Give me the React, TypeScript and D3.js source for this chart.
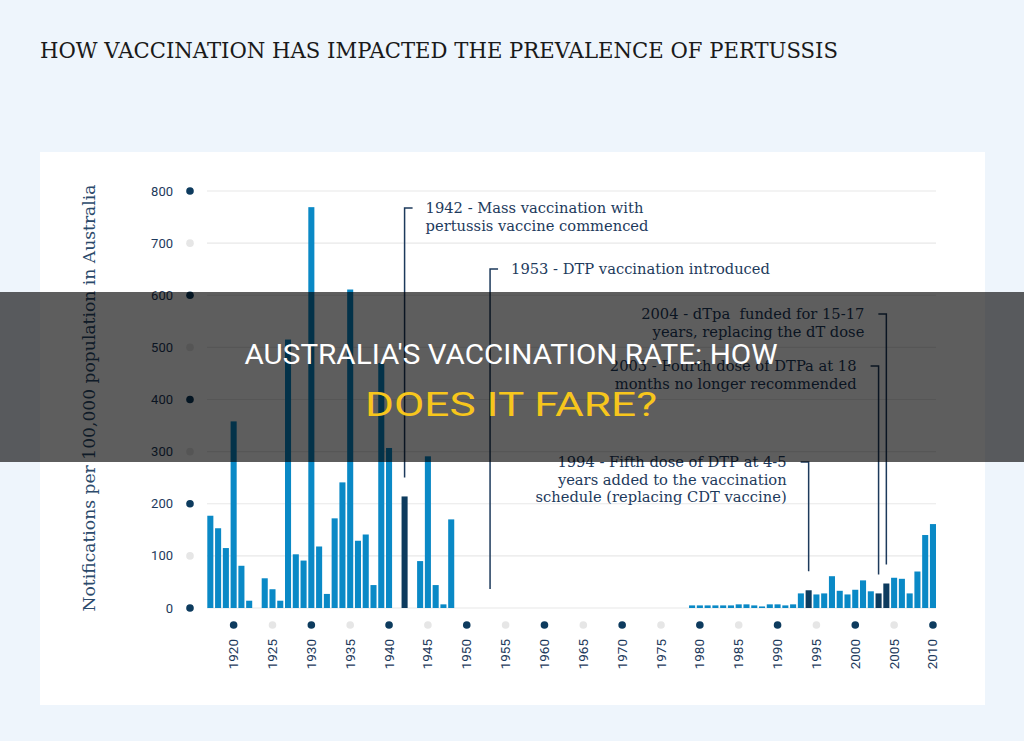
import React from 'react';
import * as d3 from 'd3';

// pertussis notifications per 100,000, 1917-2010 (0 = no bar drawn)
const years = d3.range(1917, 2011);
const notifications = [
  177, 153, 115, 358, 81, 14, 0, 57, 36, 14,
  515, 103, 91, 769, 118, 27, 172, 241, 611, 129,
  141, 44, 470, 307, 0, 214, 0, 90, 291, 44,
  7, 170,
  0, 0, 0, 0, 0, 0, 0, 0, 0, 0,
  0, 0, 0, 0, 0, 0, 0, 0, 0, 0,
  0, 0, 0, 0, 0, 0, 0, 0, 0, 0,
  5, 5, 5, 5, 5, 5, 7, 7, 5, 3,
  7, 7, 5, 7, 28, 34, 26, 28, 61, 33,
  26, 35, 53, 32, 28, 47, 58, 56, 28, 70,
  140, 161,
];
const darkYears = [1942, 1994, 2003, 2004];
const yTicks = [0, 100, 200, 300, 400, 500, 600, 700, 800];
const xTicks = [1920, 1925, 1930, 1935, 1940, 1945, 1950, 1955, 1960, 1965,
  1970, 1975, 1980, 1985, 1990, 1995, 2000, 2005, 2010];

const noteYears = [1942, 1953, 2004, 2003, 1994];
const noteLines = [
  ['1942 - Mass vaccination with', 'pertussis vaccine commenced'],
  ['1953 - DTP vaccination introduced'],
  ['2004 - dTpa  funded for 15-17', 'years, replacing the dT dose'],
  ['2003 - Fourth dose of DTPa at 18', 'months no longer recommended'],
  ['1994 - Fifth dose of DTP at 4-5', 'years added to the vaccination', 'schedule (replacing CDT vaccine)'],
];
// layout for the notes: y of the top hook, which side the text sits on
const noteTop = [208, 269, 314, 366, 462];
const noteSide = ['right', 'right', 'left', 'left', 'left'];

const navy = '#1d3a5c';
const light = '#0a89c6';
const dark = '#0d3b5e';
const slab = '"DejaVu Serif", "Liberation Serif", serif';
const sans = 'Roboto, "Liberation Sans", sans-serif';

export default function App() {
  const x = d3.scaleBand<number>().domain(years).range([207.3, 936]).paddingInner(0.22).paddingOuter(0);
  const y = d3.scaleLinear().domain([0, 800]).range([608, 191]);
  const cx = (yr: number) => (x(yr) as number) + x.bandwidth() / 2;
  const data = years.map((yr, i) => ({ yr, v: notifications[i] }));

  return (
    <svg width={1024} height={741} style={{ position: 'absolute', left: 0, top: 0 }}>
      <rect x={0} y={0} width={1024} height={741} fill="#eef5fc" />
      <text x={40} y={58} fontFamily={slab} fontSize={22} fill="#1a1a1a"
        textLength={798} lengthAdjust="spacingAndGlyphs">
        HOW VACCINATION HAS IMPACTED THE PREVALENCE OF PERTUSSIS
      </text>
      <rect x={40} y={152} width={945} height={553} fill="#ffffff" />

      {/* grid + y axis */}
      {yTicks.map((t, i) => (
        <g key={t}>
          <line x1={207} x2={936} y1={y(t)} y2={y(t)} stroke="#e8e8e8" strokeWidth={1.2} />
          <circle cx={190} cy={y(t)} r={3.8} fill={i % 2 === 0 ? dark : '#e6e6e6'} />
          <text x={173} y={y(t) + 4.5} textAnchor="end" fontFamily={sans} fontSize={13} fill={navy}>{t}</text>
        </g>
      ))}
      <text transform="translate(95,398) rotate(-90)" textAnchor="middle" fontFamily={slab}
        fontSize={16.5} fill="#2b4a6b" textLength={427} lengthAdjust="spacingAndGlyphs">
        Notifications per 100,000 population in Australia
      </text>

      {/* bars */}
      {data.filter(d => d.v > 0).map(d => (
        <rect key={d.yr} x={x(d.yr)} y={y(d.v)} width={x.bandwidth()} height={y(0) - y(d.v)}
          fill={darkYears.includes(d.yr) ? dark : light} />
      ))}

      {/* x axis */}
      {xTicks.map(t => (
        <g key={t}>
          <circle cx={cx(t)} cy={625} r={3.8} fill={t % 10 === 0 ? dark : '#e6e6e6'} />
          <text transform={`translate(${cx(t) + 4.5},639) rotate(-90)`} textAnchor="end"
            fontFamily={sans} fontSize={13.5} fill={navy}>{t}</text>
        </g>
      ))}

      {/* annotations */}
      {noteYears.map((yr, i) => {
        const lx = cx(yr);
        const v = notifications[years.indexOf(yr)];
        const bottom = y(v) - 19;
        const top = noteTop[i];
        const right = noteSide[i] === 'right';
        return (
          <g key={yr}>
            <path d={`M${right ? lx + 8 : lx - 8},${top}H${lx}V${bottom}`} fill="none" stroke={navy} strokeWidth={1.5} />
            {noteLines[i].map((s, j) => (
              <text key={j} x={right ? lx + 21 : lx - 22} y={top + 5 + j * 17.5}
                textAnchor={right ? 'start' : 'end'} fontFamily={slab} fontSize={14.7} fill={navy}
                style={{ whiteSpace: 'pre' }}>{s}</text>
            ))}
          </g>
        );
      })}

      {/* overlay band */}
      <rect x={0} y={292} width={1024} height={170} fill="rgba(0,0,0,0.63)" />
      <text x={511} y={364} textAnchor="middle" fontFamily={sans} fontSize={27} fill="#ffffff"
        textLength={533} lengthAdjust="spacingAndGlyphs">AUSTRALIA'S VACCINATION RATE: HOW</text>
      <text x={511} y={416} textAnchor="middle" fontFamily={sans} fontSize={34} fill="#f7c61c"
        textLength={292} lengthAdjust="spacingAndGlyphs">DOES IT FARE?</text>
    </svg>
  );
}
